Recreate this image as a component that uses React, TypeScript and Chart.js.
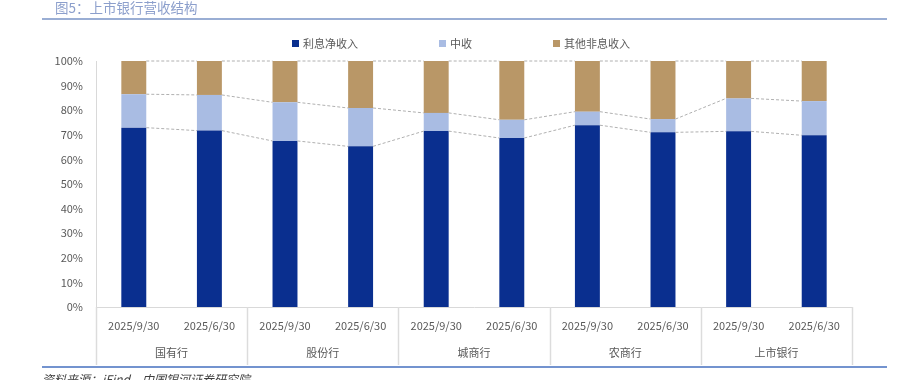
import React, { useEffect, useRef } from "react";
import { Chart, registerables } from "chart.js";

Chart.register(...registerables);

const categories = [
  "2025/9/30", "2025/6/30",
  "2025/9/30", "2025/6/30",
  "2025/9/30", "2025/6/30",
  "2025/9/30", "2025/6/30",
  "2025/9/30", "2025/6/30",
];
const groups = ["国有行", "股份行", "城商行", "农商行", "上市银行"];
const netInterest = [72.9, 71.7, 67.5, 65.3, 71.5, 68.7, 73.9, 71.0, 71.4, 69.8];
const feeIncome = [13.6, 14.5, 15.7, 15.6, 7.4, 7.4, 5.5, 5.4, 13.4, 13.9];
const otherNonInterest = [13.5, 13.8, 16.8, 19.1, 21.1, 23.9, 20.6, 23.6, 15.2, 16.3];
const seriesNames = ["利息净收入", "中收", "其他非息收入"];
const yTicks = [0, 10, 20, 30, 40, 50, 60, 70, 80, 90, 100];

const FONT = "'Noto Sans CJK SC', 'Noto Sans', sans-serif";
const TEXT = "#595959";
const COLORS = ["#0a2f8f", "#a9bce3", "#b99767"];

const extrasPlugin = {
  id: "extras",
  afterDatasetsDraw(chart: any) {
    const ctx = chart.ctx;
    const metas = chart.data.datasets.map((_: any, i: number) => chart.getDatasetMeta(i));
    ctx.save();
    ctx.strokeStyle = "#b0b0b0";
    ctx.lineWidth = 1;
    ctx.setLineDash([3, 2]);
    metas.forEach((meta: any) => {
      for (let i = 0; i < meta.data.length - 1; i++) {
        const a = meta.data[i];
        const b = meta.data[i + 1];
        ctx.beginPath();
        ctx.moveTo(a.x + a.width / 2, a.y);
        ctx.lineTo(b.x - b.width / 2, b.y);
        ctx.stroke();
      }
    });
    ctx.restore();
  },
  afterDraw(chart: any) {
    const ctx = chart.ctx;
    const area = chart.chartArea;
    const xs = chart.scales.x;
    ctx.save();
    // group separators
    ctx.strokeStyle = "#dcdcdc";
    ctx.lineWidth = 1.5;
    const n = chart.data.labels.length;
    const bounds: number[] = [area.left];
    for (let i = 2; i < n; i += 2) {
      bounds.push((xs.getPixelForValue(i - 1) + xs.getPixelForValue(i)) / 2);
    }
    bounds.push(area.right);
    bounds.forEach((bx) => {
      ctx.beginPath();
      ctx.moveTo(Math.round(bx) + 0.5, area.bottom);
      ctx.lineTo(Math.round(bx) + 0.5, area.bottom + 58);
      ctx.stroke();
    });
    // group labels
    ctx.fillStyle = TEXT;
    ctx.font = `11px ${FONT}`;
    ctx.textAlign = "center";
    ctx.textBaseline = "middle";
    groups.forEach((g, gi) => {
      const cx = (xs.getPixelForValue(gi * 2) + xs.getPixelForValue(gi * 2 + 1)) / 2;
      ctx.fillText(g, cx, area.bottom + 46);
    });
    // legend
    const ly = area.top - 17;
    let lx = area.left + 196;
    ctx.textAlign = "left";
    chart.data.datasets.forEach((ds: any) => {
      ctx.fillStyle = ds.backgroundColor;
      ctx.fillRect(lx, ly - 4, 7, 7);
      lx += 11;
      ctx.fillStyle = TEXT;
      ctx.fillText(ds.label, lx, ly);
      lx += ctx.measureText(ds.label).width + 81;
    });
    ctx.restore();
  },
};

export default function App() {
  const ref = useRef<HTMLCanvasElement | null>(null);
  useEffect(() => {
    if (!ref.current) return;
    const data = [netInterest, feeIncome, otherNonInterest];
    const chart = new Chart(ref.current, {
      type: "bar",
      data: {
        labels: categories,
        datasets: data.map((d, i) => ({
          label: seriesNames[i],
          data: d,
          backgroundColor: COLORS[i],
          borderWidth: 0,
          categoryPercentage: 1,
          barPercentage: 0.33,
        })),
      },
      options: {
        animation: false,
        responsive: false,
        maintainAspectRatio: false,
        layout: { padding: { top: 61, right: 49, left: 0, bottom: 0 } },
        plugins: {
          legend: { display: false },
          tooltip: { enabled: false },
          title: { display: false },
        },
        scales: {
          x: {
            stacked: true,
            grid: { display: false, drawTicks: false },
            border: { display: true, color: "#d9d9d9", width: 1 },
            ticks: {
              color: TEXT,
              font: { family: FONT, size: 11 },
              padding: 12,
              maxRotation: 0,
              autoSkip: false,
            },
            afterFit: (s: any) => { s.height = 73; },
          },
          y: {
            stacked: true,
            min: 0,
            max: 100,
            afterBuildTicks: (s: any) => { s.ticks = yTicks.map((v) => ({ value: v })); },
            grid: { display: false, drawTicks: false },
            border: { display: true, color: "#d9d9d9", width: 1 },
            ticks: {
              color: TEXT,
              font: { family: FONT, size: 11 },
              padding: 13,
              callback: (v: any) => `${v}%`,
            },
            afterFit: (s: any) => { s.width = 96; },
          },
        },
      },
      plugins: [extrasPlugin],
    });
    return () => chart.destroy();
  }, []);

  return (
    <div style={{ position: "absolute", left: 0, top: 0, width: 901, height: 380, overflow: "hidden", background: "#fff" }}>
      <canvas ref={ref} width={901} height={380} style={{ position: "absolute", left: 0, top: 0, width: 901, height: 380 }} />
      <div style={{ position: "absolute", left: 55, top: -2, fontFamily: FONT, fontSize: 13.5, lineHeight: "18px", color: "#8c9fcc", whiteSpace: "nowrap" }}>
        图5：上市银行营收结构
      </div>
      <div style={{ position: "absolute", left: 42, top: 18, width: 845, height: 2, background: "#9aaed4" }} />
      <div style={{ position: "absolute", left: 42, top: 366, width: 845, height: 1.5, background: "#7393cf" }} />
      <div style={{ position: "absolute", left: 42, top: 371, fontFamily: FONT, fontSize: 12, lineHeight: "16px", fontStyle: "italic", color: "#404040", whiteSpace: "nowrap" }}>
        资料来源：iFind，中国银河证券研究院
      </div>
    </div>
  );
}
